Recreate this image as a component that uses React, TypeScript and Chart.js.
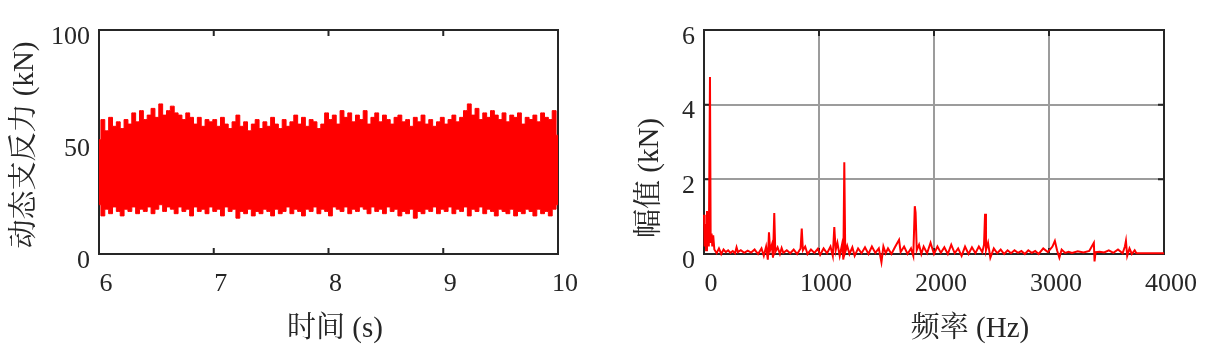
import React, { useEffect, useRef } from "react";
import { Chart, registerables } from "chart.js";

Chart.register(...registerables);

// ---------- Left panel: dynamic support reaction (envelope of dense signal) ----------
const timeStart = 6;
const timeEnd = 10;
const timeTicks = [6, 7, 8, 9, 10];
const forceTicks = [0, 50, 100];
const forceUpper = [
  51, 60, 55, 61, 57, 59, 56, 60, 58, 63, 59, 64, 60, 62, 65, 61, 67, 62, 64, 66, 63, 62, 60, 63, 61, 58, 61, 57, 60, 59,
  60, 57, 61, 58, 56, 59, 62, 57, 59, 55, 58, 60, 56, 59, 57, 61, 58, 56, 60, 57, 59, 62, 58, 61, 57, 60, 59, 56, 58, 63,
  60, 62, 58, 64, 61, 63, 59, 62, 60, 64, 58, 61, 63, 59, 62, 60, 58, 61, 62, 59, 60, 57, 61, 59, 62, 58, 60, 57, 59, 61,
  58, 60, 62, 59, 61, 64, 67, 62, 65, 60, 63, 61, 64, 62, 60, 63, 59, 62, 61, 63, 58, 61, 60, 62, 59, 63, 61, 60, 64, 53,
];
const forceLower = [
  22, 17, 20, 18, 21, 19, 17, 20, 19, 21, 18, 20, 19, 21, 18, 20, 22, 19, 21, 20, 18, 21, 19, 20, 17, 21, 19, 20, 18, 21,
  19, 20, 17, 21, 19, 20, 16, 19, 18, 20, 17, 19, 18, 20, 19, 17, 20, 18, 19, 21, 18, 20, 19, 17, 20, 19, 21, 18, 20, 19,
  17, 21, 20, 19, 21, 18, 20, 19, 21, 20, 18, 21, 19, 20, 18, 21, 19, 20, 17, 19, 18, 20, 16, 19, 18, 20, 19, 21, 18, 20,
  19, 21, 18, 20, 19, 21, 17, 20, 19, 21, 18, 20, 19, 17, 20, 19, 18, 20, 17, 19, 18, 20, 19, 17, 20, 18, 19, 17, 20, 22,
];

// ---------- Right panel: amplitude spectrum ----------
const freqTicks = [0, 1000, 2000, 3000, 4000];
const ampTicks = [0, 2, 4, 6];
const freqHz = [
  0, 6, 12, 18, 26, 34, 42, 52, 58, 66, 72, 80, 90, 110, 130, 150, 170, 190, 210, 230,
  250, 270, 283, 295, 320, 350, 380, 410, 440, 470, 500, 520, 540, 555, 565, 575, 590, 600, 611, 620,
  640, 660, 675, 690, 720, 750, 780, 810, 840, 850, 860, 880, 900, 930, 960, 990, 1010, 1040, 1070, 1100,
  1120, 1133, 1145, 1160, 1180, 1200, 1212, 1220, 1228, 1245, 1265, 1290, 1310, 1340, 1370, 1400, 1430, 1460, 1490, 1520,
  1543, 1560, 1580, 1600, 1630, 1660, 1696, 1710, 1740, 1770, 1800, 1820, 1833, 1840, 1850, 1870, 1890, 1910, 1940, 1970,
  2000, 2030, 2060, 2090, 2120, 2150, 2180, 2210, 2240, 2270, 2300, 2330, 2360, 2390, 2420, 2435, 2444, 2452, 2470, 2490,
  2520, 2550, 2580, 2610, 2640, 2670, 2700, 2730, 2760, 2790, 2820, 2850, 2880, 2910, 2950, 2990, 3030, 3051, 3070, 3090,
  3110, 3140, 3170, 3200, 3250, 3300, 3350, 3390, 3396, 3405, 3440, 3480, 3520, 3560, 3600, 3640, 3660, 3669, 3680, 3700,
  3720, 3745, 3760, 3800, 3900, 4000,
];
const ampKN = [
  1.05, 0.2, 0.8, 0.1, 1.15, 0.6, 0.2, 4.74, 0.3, 0.55, 0.2, 0.5, 0.12, 0.02, 0.15, 0.0, 0.12, 0.05, 0.1, 0.03,
  0.08, 0.02, 0.18, 0.05, 0.1, 0.03, 0.09, 0.04, 0.12, 0.0, 0.15, -0.05, 0.2, -0.15, 0.58, 0.1, 0.25, -0.1, 1.1, 0.05,
  0.18, 0.0, 0.16, 0.03, 0.1, 0.02, 0.12, 0.0, 0.15, 0.68, 0.1, 0.2, 0.0, 0.12, 0.03, 0.14, -0.02, 0.15, 0.02, 0.2,
  -0.05, 0.72, 0.1, 0.3, -0.05, 0.25, -0.15, 2.46, 0.05, 0.22, 0.0, 0.18, -0.05, 0.15, 0.02, 0.18, 0.0, 0.2, 0.03, 0.15,
  -0.22, 0.2, 0.02, 0.15, 0.0, 0.18, 0.38, 0.05, 0.2, 0.0, 0.15, -0.05, 1.28, 1.1, 0.1, 0.25, 0.0, 0.2, 0.02, 0.3,
  0.0, 0.2, 0.03, 0.18, 0.0, 0.25, 0.02, 0.15, -0.05, 0.2, 0.0, 0.18, 0.02, 0.2, 0.05, 0.25, 1.08, 0.1, 0.3, -0.1,
  0.15, 0.02, 0.12, 0.0, 0.1, 0.02, 0.1, 0.03, 0.08, 0.0, 0.1, 0.03, 0.08, 0.0, 0.15, 0.05, 0.2, 0.35, 0.1, -0.1,
  0.12, 0.03, 0.06, 0.03, 0.07, 0.04, 0.08, 0.3, -0.2, 0.05, 0.06, 0.04, 0.1, 0.03, 0.12, 0.02, 0.2, 0.35, -0.05, 0.15,
  0.0, 0.1, 0.02, 0.02, 0.02, 0.02,
];

const leftXTitle = "时间 (s)";
const leftYTitle = "动态支反力 (kN)";
const rightXTitle = "频率 (Hz)";
const rightYTitle = "幅值 (kN)";

const FONT_FAMILY = "'Liberation Serif', 'Noto Serif CJK SC', 'Noto Sans CJK SC', serif";
const AXIS_COLOR = "#262626";
const RED = "#ff0000";

function framePlugin() {
  return {
    id: "frame",
    beforeDatasetsDraw(chart: any) {
      const { ctx, chartArea: a, scales } = chart;
      ctx.save();
      ctx.strokeStyle = AXIS_COLOR;
      ctx.lineWidth = 2;
      ctx.strokeRect(a.left, a.top, a.right - a.left, a.bottom - a.top);
      const L = 6;
      ctx.beginPath();
      scales.x.ticks.forEach((t: any) => {
        const px = scales.x.getPixelForValue(t.value);
        ctx.moveTo(px, a.bottom);
        ctx.lineTo(px, a.bottom - L);
        ctx.moveTo(px, a.top);
        ctx.lineTo(px, a.top + L);
      });
      scales.y.ticks.forEach((t: any) => {
        const py = scales.y.getPixelForValue(t.value);
        ctx.moveTo(a.left, py);
        ctx.lineTo(a.left + L, py);
        ctx.moveTo(a.right, py);
        ctx.lineTo(a.right - L, py);
      });
      ctx.stroke();
      ctx.restore();
    },
  };
}

function titlePlugin(xTitle: string, xPos: [number, number], yTitle: string, yPos: [number, number]) {
  return {
    id: "axisTitles",
    afterDraw(chart: any) {
      const ctx = chart.ctx;
      ctx.save();
      ctx.fillStyle = AXIS_COLOR;
      ctx.font = `29px ${FONT_FAMILY}`;
      ctx.textAlign = "center";
      ctx.textBaseline = "middle";
      ctx.fillText(xTitle, xPos[0], xPos[1]);
      ctx.translate(yPos[0], yPos[1]);
      ctx.rotate(-Math.PI / 2);
      ctx.fillText(yTitle, 0, 0);
      ctx.restore();
    },
  };
}

function axisOptions(
  min: number,
  max: number,
  ticks: number[],
  isX: boolean,
  grid: boolean,
  size: number
) {
  return {
    type: "linear" as const,
    min,
    max,
    afterBuildTicks: (s: any) => {
      s.ticks = ticks.map((v) => ({ value: v }));
    },
    afterFit: (s: any) => {
      if (isX) s.height = size;
      else s.width = size;
    },
    border: { display: false },
    grid: {
      display: grid,
      drawTicks: false,
      color: "#9c9c9c",
      lineWidth: 2,
    },
    ticks: {
      color: AXIS_COLOR,
      font: { family: FONT_FAMILY, size: 26 },
      padding: isX ? 15 : 9,
      labelOffset: 7,
      maxRotation: 0,
      autoSkip: false,
      callback: (v: any) => String(v),
    },
  };
}

export default function App() {
  const leftRef = useRef<HTMLCanvasElement>(null);
  const rightRef = useRef<HTMLCanvasElement>(null);

  useEffect(() => {
    const n = forceUpper.length;
    const timeSamples = forceUpper.map((_, i) => timeStart + (i * (timeEnd - timeStart)) / (n - 1));

    const left = new Chart(leftRef.current as HTMLCanvasElement, {
      type: "line",
      data: {
        datasets: [
          {
            data: forceUpper.map((y, i) => ({ x: timeSamples[i], y })),
            borderColor: RED,
            backgroundColor: RED,
            borderWidth: 1,
            pointRadius: 0,
            stepped: "middle",
            fill: "+1",
          },
          {
            data: forceLower.map((y, i) => ({ x: timeSamples[i], y })),
            borderColor: RED,
            backgroundColor: RED,
            borderWidth: 1,
            pointRadius: 0,
            stepped: "middle",
            fill: false,
          },
        ],
      },
      options: {
        animation: false,
        responsive: false,
        devicePixelRatio: 1,
        layout: { padding: { left: 0, top: 30, right: 42, bottom: 0 } },
        plugins: { legend: { display: false }, tooltip: { enabled: false } },
        scales: {
          x: axisOptions(timeStart, timeEnd, timeTicks, true, false, 98),
          y: axisOptions(0, 100, forceTicks, false, false, 99),
        },
      },
      plugins: [framePlugin(), titlePlugin(leftXTitle, [335, 329], leftYTitle, [25, 145])],
    });

    const right = new Chart(rightRef.current as HTMLCanvasElement, {
      type: "line",
      data: {
        datasets: [
          {
            data: freqHz.map((x, i) => ({ x, y: ampKN[i] })),
            borderColor: RED,
            borderWidth: 2,
            pointRadius: 0,
            fill: false,
            clip: { left: 4, top: 0, right: 0, bottom: 14 },
          },
        ],
      },
      options: {
        animation: false,
        responsive: false,
        devicePixelRatio: 1,
        layout: { padding: { left: 0, top: 30, right: 53, bottom: 0 } },
        plugins: { legend: { display: false }, tooltip: { enabled: false } },
        scales: {
          x: axisOptions(0, 4000, freqTicks, true, true, 98),
          y: axisOptions(0, 6, ampTicks, false, true, 104),
        },
      },
      plugins: [framePlugin(), titlePlugin(rightXTitle, [370, 329], rightYTitle, [50, 178])],
    });

    return () => {
      left.destroy();
      right.destroy();
    };
  }, []);

  return (
    <div style={{ position: "absolute", left: 0, top: 0, width: 1217, height: 352, background: "#ffffff" }}>
      <canvas ref={leftRef} width={600} height={352} style={{ position: "absolute", left: 0, top: 0 }} />
      <canvas ref={rightRef} width={617} height={352} style={{ position: "absolute", left: 600, top: 0 }} />
    </div>
  );
}
